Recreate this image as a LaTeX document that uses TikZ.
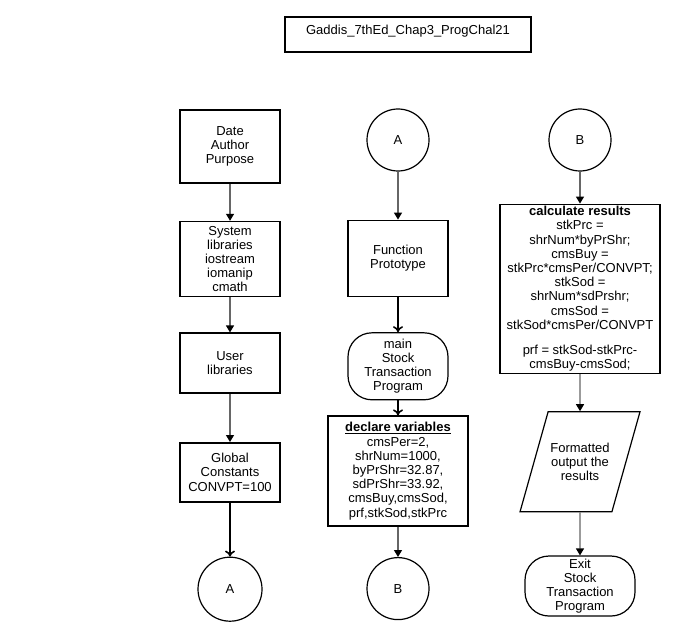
\documentclass[tikz,border=0pt]{standalone}
\usepackage{fontspec}
\setmainfont{Liberation Sans}
\usetikzlibrary{positioning}
\usetikzlibrary{arrows.meta}
\usetikzlibrary{shapes.geometric}

\begin{document}
\begin{tikzpicture}[x=1pt,y=-1pt,font=\fontsize{13}{14.2}\selectfont,
                proc/.style={rectangle,draw,line width=1.6pt,align=center,inner sep=1pt,minimum width=100pt},
                conn/.style={circle,draw,line width=1.2pt,minimum size=62pt,inner sep=0pt},
                term/.style={rectangle,rounded corners=24pt,draw,line width=1.2pt,align=center,inner sep=1pt},
                io/.style={trapezium,trapezium left angle=56,trapezium right angle=124,trapezium stretches=true,
                  draw,line width=1.2pt,align=center,minimum width=120pt,minimum height=100pt,inner sep=1pt},
                flow/.style={draw=black!60,line width=1.2pt,-{Triangle[black,length=7pt,width=8pt]}},
                boldflow/.style={draw=black,line width=1.6pt,-{To[length=6pt,width=10pt]}}]

  \useasboundingbox (0,0) rectangle (684,631);

  \node[draw,line width=1.6pt,minimum width=246pt,minimum height=35pt,text depth=10pt] (title) at (408,34.5)
    {Gaddis\_7thEd\_Chap3\_ProgChal21};

  \node[proc,minimum height=73pt] (info) at (230,146.5) {Date\\Author\\Purpose};
  \node[proc,minimum height=75pt] (syslib) [below=37pt of info] {System\\libraries\\iostream\\iomanip\\cmath};
  \node[proc,minimum height=60pt] (usrlib) [below=35pt of syslib] {User\\libraries};
  \node[proc,minimum height=59pt] (global) [below=48pt of usrlib] {Global\\Constants\\CONVPT=100};
  \node[conn,minimum size=64pt] (outA) [below=54pt of global] {A};

  \node[conn] (inA) at (398,140) {A};
  \node[proc,minimum height=76pt] (proto) [below=48pt of inA] {Function\\Prototype};
  \node[term,minimum width=100pt,minimum height=67pt] (main) [below=35pt of proto] {main\\Stock\\Transaction\\Program};
  \node[proc,minimum width=140pt,minimum height=110pt] (decl) [below=15pt of main]
    {\underline{\textbf{declare variables}}\\cmsPer=2,\\shrNum=1000,\\byPrShr=32.87,\\sdPrShr=33.92,\\cmsBuy,cmsSod,\\prf,stkSod,stkPrc};
  \node[conn] (outB) [below=30pt of decl] {B};

  \node[conn] (inB) at (580,140) {B};
  \node[proc,minimum width=160pt,minimum height=169pt] (calc) [below=32pt of inB]
    {\textbf{calculate results}\\stkPrc =\\shrNum*byPrShr;\\cmsBuy =\\stkPrc*cmsPer/CONVPT;\\stkSod =\\shrNum*sdPrshr;\\cmsSod =\\stkSod*cmsPer/CONVPT\\[11pt]prf = stkSod-stkPrc-\\cmsBuy-cmsSod;};
  \node[io] (output) [below=37pt of calc] {Formatted\\output the\\results};
  \node[term,minimum width=110pt,minimum height=60pt] (exit) [below=43pt of output] {Exit\\Stock\\Transaction\\Program};

  \path
    (info) edge [flow] (syslib)
    (syslib) edge [flow] (usrlib)
    (usrlib) edge [flow] (global)
    (global) edge [boldflow] (outA)
    (inA) edge [flow] (proto)
    (proto) edge [boldflow] (main)
    (main) edge [boldflow] (decl)
    (decl) edge [flow] (outB)
    (inB) edge [flow] (calc)
    (calc) edge [flow] (output)
    (output) edge [flow] (exit);

\end{tikzpicture}
\end{document}
